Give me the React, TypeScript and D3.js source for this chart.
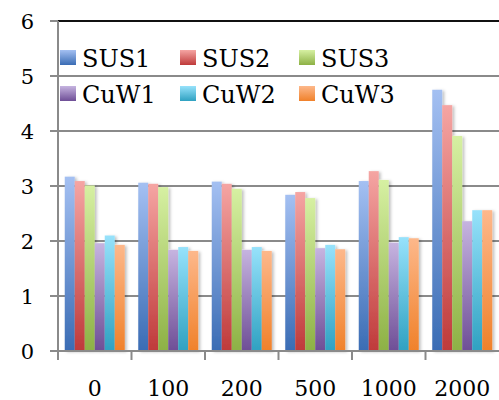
import React from "react";
import * as d3 from "d3";

const categories = ["0", "100", "200", "500", "1000", "2000"];
const seriesNames = ["SUS1", "SUS2", "SUS3", "CuW1", "CuW2", "CuW3"];
const SUS1 = [3.17, 3.06, 3.08, 2.84, 3.09, 4.75];
const SUS2 = [3.09, 3.04, 3.04, 2.89, 3.27, 4.47];
const SUS3 = [3.01, 2.98, 2.95, 2.78, 3.11, 3.91];
const CuW1 = [1.96, 1.84, 1.84, 1.87, 1.97, 2.36];
const CuW2 = [2.1, 1.89, 1.89, 1.93, 2.07, 2.56];
const CuW3 = [1.93, 1.82, 1.82, 1.85, 2.05, 2.56];
const seriesValues = [SUS1, SUS2, SUS3, CuW1, CuW2, CuW3];
const yTicks = [0, 1, 2, 3, 4, 5, 6];
const colorsTop = ["#a4c0f2", "#f5a5a3", "#d6f0a2", "#c6b4e0", "#97e2fb", "#fdb88b"];
const colorsBottom = ["#3a6cb4", "#bf3a3a", "#8db145", "#6e4e96", "#2fa1c1", "#f0812a"];

export default function App() {
  const W = 499, H = 400;
  const left = 58, right = 499, top = 21, bottom = 351;
  const font = "'DejaVu Serif', serif";
  const y = d3.scaleLinear().domain([0, 6]).range([bottom, top]);
  const p = 13.5 / 73.5;
  const x = d3.scaleBand<string>().domain(categories).range([left, right]).paddingInner(p).paddingOuter(p / 2);
  const xs = d3.scaleBand<string>().domain(seriesNames).range([0, x.bandwidth()]);
  const legendCols = [60, 180, 299];
  const legendRows = [58, 94];
  const gridColor = "#8a8a8a";

  return (
    <svg width={W} height={H} style={{ position: "absolute", left: 0, top: 0, background: "#fff" }}>
      <defs>
        {seriesNames.map((s, i) => (
          <linearGradient key={s} id={`g${i}`} x1="0" y1="0" x2="0" y2="1">
            <stop offset="0%" stopColor={colorsTop[i]} />
            <stop offset="100%" stopColor={colorsBottom[i]} />
          </linearGradient>
        ))}
        <filter id="shadow" x="-30%" y="-10%" width="180%" height="130%">
          <feDropShadow dx="2" dy="1" stdDeviation="1.5" floodColor="#000" floodOpacity="0.25" />
        </filter>
      </defs>
      <rect x={0} y={0} width={W} height={H} fill="#fff" />
      {yTicks.filter((t) => t > 0 && t < 6).map((t) => (
        <line key={t} x1={left} x2={right} y1={y(t)} y2={y(t)} stroke={gridColor} strokeWidth={2} />
      ))}
      <line x1={left} x2={right} y1={y(6)} y2={y(6)} stroke="#111" strokeWidth={2} />
      {categories.map((c, ci) => (
        <g key={c} filter="url(#shadow)">
          {seriesNames.map((s, si) => {
            const v = seriesValues[si][ci];
            return (
              <rect
                key={s}
                x={(x(c) as number) + (xs(s) as number)}
                y={y(v)}
                width={xs.bandwidth()}
                height={bottom - y(v)}
                fill={`url(#g${si})`}
              />
            );
          })}
        </g>
      ))}
      <line x1={left} x2={left} y1={top} y2={bottom + 1} stroke={gridColor} strokeWidth={2} />
      <line x1={left - 8} x2={right} y1={bottom} y2={bottom} stroke={gridColor} strokeWidth={2} />
      {yTicks.map((t) => (
        <g key={t}>
          <line x1={left - 8} x2={left} y1={y(t)} y2={y(t)} stroke={gridColor} strokeWidth={2} />
          <text x={34} y={y(t) + 7.5} textAnchor="end" fontFamily={font} fontSize={21} fill="#000">
            {t}
          </text>
        </g>
      ))}
      {categories.map((c, i) => {
        const tx = left + i * x.step();
        return <line key={c} x1={tx} x2={tx} y1={bottom} y2={bottom + 9} stroke={gridColor} strokeWidth={2} />;
      })}
      {categories.map((c) => (
        <text key={c} x={(x(c) as number) + x.bandwidth() / 2} y={396} textAnchor="middle" fontFamily={font} fontSize={22} fill="#000">
          {c}
        </text>
      ))}
      {seriesNames.map((s, i) => {
        const lx = legendCols[i % 3];
        const ly = legendRows[Math.floor(i / 3)];
        return (
          <g key={s}>
            <rect x={lx} y={ly - 8} width={16} height={15} fill={`url(#g${i})`} />
            <text x={lx + 22} y={ly + 8.5} fontFamily={font} fontSize={24} fill="#000">
              {s}
            </text>
          </g>
        );
      })}
    </svg>
  );
}
